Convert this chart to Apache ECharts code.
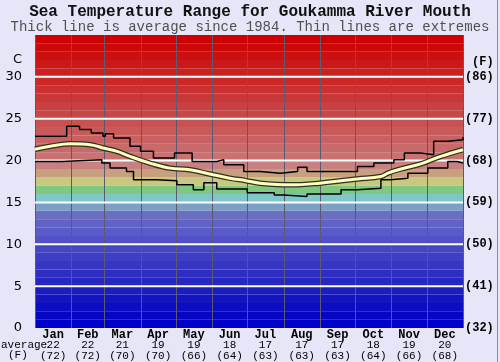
<!DOCTYPE html>
<html>
<head>
<meta charset="utf-8">
<script src="https://cdn.jsdelivr.net/npm/echarts@6/dist/echarts.min.js"></script>
<style>
html,body{margin:0;padding:0;background:#e6e6f8;}
#c{width:500px;height:362px;}
</style>
</head>
<body>
<div id="c"></div>
<script>
// ---- data ----
const months = ['Jan','Feb','Mar','Apr','May','Jun','Jul','Aug','Sep','Oct','Nov','Dec'];
const monthAvgC = ['22','22','21','19','19','18','17','17','17','18','19','20'];
const monthAvgF = ['(72)','(72)','(70)','(70)','(66)','(64)','(63)','(63)','(63)','(64)','(66)','(68)'];
const monthStarts = [0,31,59,90,120,151,181,212,243,273,304,334,365];

const avgDays = [0,13,30,47,58,70,81,98,115,132,149,166,180,192,218,243,261,275,295,301,312,329,346,365];
const avgVals = [21.35,21.7,22.0,21.9,21.5,21.1,20.5,19.7,19.1,18.9,18.4,17.9,17.6,17.3,17.1,17.3,17.6,17.8,18.1,18.5,19.0,19.6,20.5,21.3];

const maxDays = [0,27,38,48,58,60,67,81,90,101,119,134,155,161,178,192,209,224,232,275,289,306,315,329,340,352,365];
const maxVals = [22.9,24.1,23.7,23.3,22.9,23.2,22.7,21.7,21.1,20.3,20.9,19.9,20.1,19.5,18.7,18.5,18.7,19.2,18.7,19.3,19.7,20.1,20.9,20.7,22.3,22.5,22.8];

const minDays = [0,23,57,64,78,84,104,121,135,144,155,181,204,212,232,261,275,295,303,318,335,352,360,365];
const minVals = [19.9,20.1,19.7,19.1,18.7,17.7,17.6,17.1,16.5,17.35,16.6,16.15,15.9,15.7,16.0,16.5,16.7,17.7,17.9,18.5,19.1,19.9,19.7,19.7];

const yTicks = [0,5,10,15,20,25,30];

// ---- styles ----
const bandColors = [
 '#0000c8','#0505c4','#0c0cc2','#1414c0','#1c1cc0',
 '#2626c0','#2e2ec0','#3636c2','#3e3ec4','#4646c4',
 '#5252c8','#5a5ac8','#6262c6','#6c6ec0','#7aa0c8',
 '#80c8c8','#80c880','#c8c880','#c8a080','#c88080',
 '#c87272','#c86a6a','#c86262','#c85a5a','#c85252',
 '#c84848','#c84040','#c83838','#cc3030','#cc2828',
 '#cc2020','#cc1818','#cc1010','#cc0808','#d00000'
];

const zip = (a,b)=>a.map((d,i)=>[d,b[i]]);
const midDays = months.map((m,i)=>(monthStarts[i]+monthStarts[i+1])/2);

const chart = echarts.init(document.getElementById('c'), null, {renderer:'canvas'});
const mono = '"Liberation Mono", "DejaVu Sans Mono", monospace';

chart.setOption({
  backgroundColor:'#e6e6f8',
  animation:false,
  grid:{left:35,right:37,top:35,bottom:34},
  xAxis:[{
    type:'value',min:0,max:365,
    axisLine:{show:false},axisTick:{show:false},splitLine:{show:false},
    axisLabel:{
      customValues: midDays,
      margin:1,
      formatter:function(v){
        let i = midDays.indexOf(v);
        if(i<0) return '';
        return '{m|'+months[i]+'}\n{v|'+monthAvgC[i]+'}\n{f|'+monthAvgF[i]+'}';
      },
      rich:{
        m:{fontFamily:mono,fontWeight:'bold',fontSize:12,lineHeight:11,color:'#000'},
        v:{fontFamily:mono,fontSize:11,lineHeight:10.5,color:'#000'},
        f:{fontFamily:mono,fontSize:11,lineHeight:10.5,color:'#000'}
      }
    }
  }],
  yAxis:[{
    type:'value',min:0,max:35,interval:5,
    axisLine:{show:false},axisTick:{show:false},splitLine:{show:false},
    axisLabel:{margin:13,fontFamily:'"DejaVu Sans", sans-serif',fontSize:13,color:'#000',
      formatter:v=>v>=35?'':String(v)}
  },{
    type:'value',min:0,max:35,interval:5,position:'right',
    axisLine:{show:false},axisTick:{show:false},splitLine:{show:false},
    axisLabel:{margin:2,fontFamily:mono,fontWeight:'bold',fontSize:12,color:'#000',
      formatter:v=>v>=35?'':'('+Math.round(v*9/5+32)+')'}
  }],
  graphic:[
    {type:'text',left:'center',top:4,style:{text:'Sea Temperature Range for Goukamma River Mouth',font:'bold 16px '+mono,fill:'#111'}},
    {type:'text',left:'center',top:20,style:{text:'Thick line is average since 1984. Thin lines are extremes',font:'14px '+mono,fill:'#505050'}},
    {type:'text',left:13,top:53,style:{text:'C',font:'13px "DejaVu Sans", sans-serif',fill:'#000'}},
    {type:'text',left:472,top:56,style:{text:'(F)',font:'bold 12px '+mono,fill:'#000'}},
    {type:'text',left:1,top:340,style:{text:'average',font:'11px '+mono,fill:'#000'}},
    {type:'text',left:8,top:350,style:{text:'(F)',font:'11px '+mono,fill:'#000'}},
    {type:'rect',left:497,top:0,shape:{width:1,height:362},style:{fill:'#909090'}}
  ],
  series:[
    {
      type:'custom',z:1,silent:true,
      data:bandColors.map((c,i)=>[i]),
      renderItem:function(params,api){
        const i = api.value(0);
        const p0 = api.coord([0,i+1]);
        const p1 = api.coord([365,i]);
        return {type:'rect',shape:{x:p0[0],y:p0[1],width:p1[0]-p0[0],height:p1[1]-p0[1]},
          style:{fill:bandColors[i]}};
      }
    },
    {
      type:'custom',z:2,silent:true,
      data:monthStarts.map(d=>[d]),
      renderItem:function(params,api){
        const d = api.value(0);
        const a = api.coord([d,0]), b = api.coord([d,35]);
        const x = Math.round(a[0])+0.5;
        return {type:'line',shape:{x1:x,y1:b[1],x2:x,y2:a[1]},style:{stroke:'#5a5a70',lineWidth:1}};
      }
    },
    {
      type:'custom',z:3,silent:true,
      data:yTicks.slice(1).map(t=>[t]),
      renderItem:function(params,api){
        const t = api.value(0);
        const a = api.coord([0,t]), b = api.coord([365,t]);
        return {type:'line',shape:{x1:a[0],y1:a[1],x2:b[0],y2:b[1]},style:{stroke:'#ffffff',lineWidth:2}};
      }
    },
    {type:'line',z:4,data:zip(maxDays,maxVals),step:'end',symbol:'none',lineStyle:{color:'#000',width:1.5}},
    {type:'line',z:4,data:zip(minDays,minVals),step:'end',symbol:'none',lineStyle:{color:'#000',width:1.5}},
    {type:'line',z:5,data:zip(avgDays,avgVals),smooth:0.4,symbol:'none',lineStyle:{color:'#303020',width:5.5}},
    {type:'line',z:6,data:zip(avgDays,avgVals),smooth:0.4,symbol:'none',lineStyle:{color:'#ffffc0',width:3}}
  ]
});
</script>
</body>
</html>
